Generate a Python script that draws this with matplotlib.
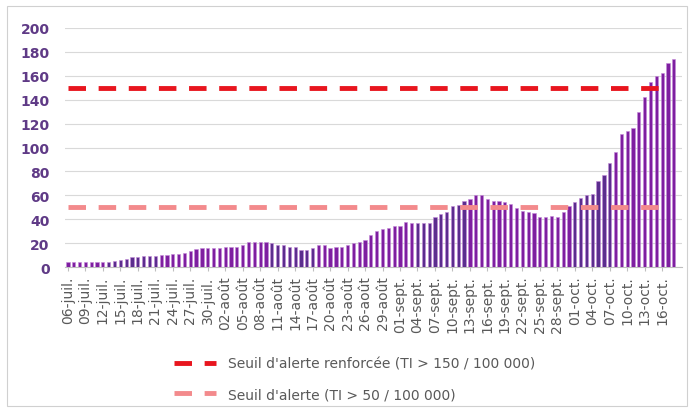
import matplotlib
matplotlib.use('Agg')
import matplotlib.pyplot as plt
from matplotlib.patches import Rectangle

# ---- data ----
months = ["juil.", "août", "sept.", "oct."]
month_start = [6, 1, 1, 1]
month_end = [31, 31, 30, 18]
dates = []
for m, s, e in zip(months, month_start, month_end):
    for d in range(s, e + 1):
        dates.append(f"{d:02d}-{m}")

incidence = [
    4, 4, 4, 4, 4, 4, 4, 4, 5, 6,
    7, 8, 8, 9, 9, 9, 10, 10, 11, 11,
    12, 13, 15, 16, 16, 16, 16, 17, 17, 17,
    18, 21, 21, 21, 21, 20, 18, 18, 17, 17,
    14, 14, 16, 18, 18, 16, 17, 17, 18, 20,
    21, 23, 27, 30, 32, 33, 34, 34, 38, 37,
    37, 37, 37, 42, 44, 46, 51, 52, 55, 57,
    60, 60, 57, 55, 55, 54, 53, 49, 47, 46,
    45, 42, 42, 43, 42, 46, 51, 54, 58, 60,
    61, 72, 77, 87, 96, 111, 114, 116, 130, 142,
    155, 160, 162, 171, 174,
]

seuil_renforce = 150
seuil_alerte = 50
n_seuil = 103  # threshold series length (in days)
label_renforce = "Seuil d'alerte renforcée (TI > 150 / 100 000)"
label_alerte = "Seuil d'alerte (TI > 50 / 100 000)"
y_ticks = list(range(0, 201, 20))

# ---- style ----
dark_groups = [(7, 15), (35, 42), (60, 68), (87, 93)]
bar_colors = []
for i in range(len(incidence)):
    dark = any(a <= i <= b for a, b in dark_groups)
    bar_colors.append('#5B2D8E' if dark else '#7E1FA0')

W, H = 694, 414
fig = plt.figure(figsize=(W / 100, H / 100), dpi=100)
fig.patch.set_facecolor('white')
fig.add_artist(Rectangle((7 / W, 7 / H), 680 / W, 400 / H, transform=fig.transFigure,
                         fill=False, edgecolor='#D0D0D0', linewidth=0.8))

left, right, bottom, top = 65, 682, 268, 29
ax = fig.add_axes([left / W, 1 - bottom / H, (right - left) / W, (bottom - top) / H])

x = list(range(len(incidence)))
ax.bar(x, incidence, width=0.55, color=bar_colors, edgecolor='#C48AD8',
       linewidth=0.4, zorder=3)

ls = (0, (3.6, 2.6))
ax.plot(range(n_seuil), [seuil_renforce] * n_seuil, color='#E8151E', linewidth=3.5,
        linestyle=ls, label=label_renforce, zorder=4, dash_capstyle='butt')
ax.plot(range(n_seuil), [seuil_alerte] * n_seuil, color='#F38A8C', linewidth=3.5,
        linestyle=ls, label=label_alerte, zorder=4, dash_capstyle='butt')

ax.set_ylim(0, 200)
ax.set_xlim(-0.5, 105.4)
ax.set_yticks(y_ticks)
ax.grid(axis='y', color='#D9D9D9', linewidth=0.8, zorder=0)
ax.set_axisbelow(True)
for s in ['top', 'right', 'left']:
    ax.spines[s].set_visible(False)
ax.spines['bottom'].set_color('#BFBFBF')
ax.spines['bottom'].set_linewidth(0.8)

ax.tick_params(axis='y', length=0, pad=11, labelsize=10, labelcolor='#5F3A86')
for t in ax.get_yticklabels():
    t.set_fontweight('bold')

ax.set_xticks(x[::3])
ax.set_xticklabels(dates[::3], rotation=90, fontsize=10, color='#595959')
ax.tick_params(axis='x', length=3, color='#BFBFBF', pad=3)

fig.legend(handles=ax.get_lines(), loc='center left',
           bbox_to_anchor=(174 / W, 1 - 380 / H), frameon=False, fontsize=10,
           handlelength=3.0, handletextpad=0.9, labelspacing=1.2,
           borderpad=0, borderaxespad=0, labelcolor='#595959')

fig.savefig('out.png', dpi=100)
